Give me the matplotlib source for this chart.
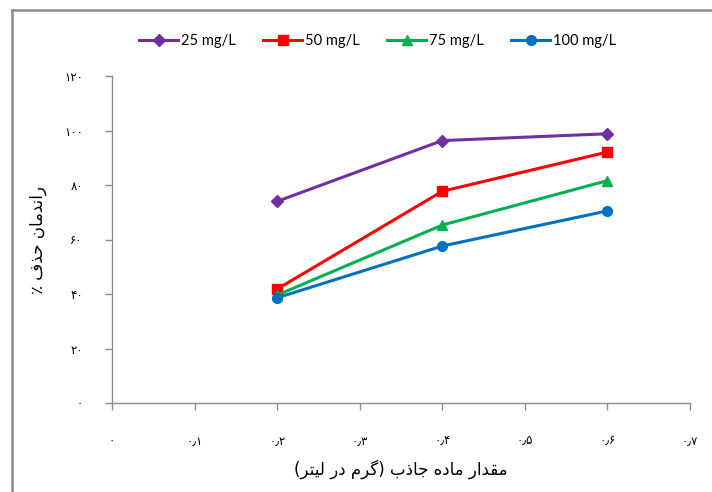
import numpy as np
import matplotlib
matplotlib.use("Agg")
import matplotlib.pyplot as plt
from matplotlib.lines import Line2D

# ------------------------------------------------------------
# Data
# ------------------------------------------------------------
dose = [0.2, 0.4, 0.6]
removal_25 = [74.0, 96.3, 98.8]
removal_50 = [41.8, 77.7, 92.1]
removal_75 = [39.6, 65.3, 81.6]
removal_100 = [38.6, 57.6, 70.5]
series_labels = ["25 mg/L", "50 mg/L", "75 mg/L", "100 mg/L"]

x_ticks = [0, 0.1, 0.2, 0.3, 0.4, 0.5, 0.6, 0.7]
y_ticks = [0, 20, 40, 60, 80, 100, 120]

x_label_fa = "مقدار ماده جاذب (گرم در لیتر)"
y_label_fa = "راندمان حذف ٪"

# ------------------------------------------------------------
# Tiny Persian shaper (matplotlib has no Arabic-script shaping)
# forms: isolated, final, initial, medial
# ------------------------------------------------------------
FORMS = {
    'ا': ('\uFE8D', '\uFE8E', None, None),
    'د': ('\uFEA9', '\uFEAA', None, None),
    'ذ': ('\uFEAB', '\uFEAC', None, None),
    'ر': ('\uFEAD', '\uFEAE', None, None),
    'ب': ('\uFE8F', '\uFE90', '\uFE91', '\uFE92'),
    'ت': ('\uFE95', '\uFE96', '\uFE97', '\uFE98'),
    'ج': ('\uFE9D', '\uFE9E', '\uFE9F', '\uFEA0'),
    'ح': ('\uFEA1', '\uFEA2', '\uFEA3', '\uFEA4'),
    'ف': ('\uFED1', '\uFED2', '\uFED3', '\uFED4'),
    'ق': ('\uFED5', '\uFED6', '\uFED7', '\uFED8'),
    'ل': ('\uFEDD', '\uFEDE', '\uFEDF', '\uFEE0'),
    'م': ('\uFEE1', '\uFEE2', '\uFEE3', '\uFEE4'),
    'ن': ('\uFEE5', '\uFEE6', '\uFEE7', '\uFEE8'),
    'ه': ('\uFEE9', '\uFEEA', '\uFEEB', '\uFEEC'),
    'گ': ('\uFB92', '\uFB93', '\uFB94', '\uFB95'),
    'ی': ('\uFBFC', '\uFBFD', '\uFBFE', '\uFBFF'),
}
MIRROR = {'(': ')', ')': '('}


def fa(text):
    out = []
    for i, c in enumerate(text):
        if c not in FORMS:
            out.append(MIRROR.get(c, c))
            continue
        prev = text[i - 1] if i > 0 else None
        nxt = text[i + 1] if i + 1 < len(text) else None
        iso, fin, ini, med = FORMS[c]
        join_prev = prev in FORMS and FORMS[prev][2] is not None
        join_next = nxt in FORMS and ini is not None
        if join_prev and join_next:
            out.append(med)
        elif join_prev:
            out.append(fin)
        elif join_next:
            out.append(ini)
        else:
            out.append(iso)
    return "".join(reversed(out))


PERSIAN_DIGITS = str.maketrans("0123456789.", "۰۱۲۳۴۵۶۷۸۹٫")


def fa_num(v):
    s = f"{v:g}"
    return s.translate(PERSIAN_DIGITS)


# ------------------------------------------------------------
# Plot
# ------------------------------------------------------------
plt.rcParams['font.family'] = ['DejaVu Sans']
fig = plt.figure(figsize=(7.12, 4.92), dpi=100)
ax = fig.add_axes([112 / 712, 89 / 492, 578 / 712, 327 / 492])

styles = [
    ("#7030A0", "D", 6),
    ("#FF0000", "s", 7),
    ("#00B050", "^", 7),
    ("#0070C0", "o", 7),
]
for vals, lab, (col, mk, ms) in zip(
        [removal_25, removal_50, removal_75, removal_100], series_labels, styles):
    ax.plot(dose, vals, color=col, marker=mk, markersize=ms, linewidth=2.2,
            label=lab)

ax.set_xlim(0, 0.7)
ax.set_ylim(0, 120)
ax.set_xticks(x_ticks)
ax.set_yticks(y_ticks)
ax.set_xticklabels([fa_num(v) for v in x_ticks])
ax.set_yticklabels([fa_num(v) for v in y_ticks])

for side in ("top", "right"):
    ax.spines[side].set_visible(False)
for side in ("left", "bottom"):
    ax.spines[side].set_color("#8c8c8c")
    ax.spines[side].set_linewidth(1.0)
ax.tick_params(axis="both", colors="#8c8c8c", length=5, width=1.0,
               labelcolor="black", labelsize=8.5)
ax.tick_params(axis="x", pad=18)
ax.tick_params(axis="y", pad=16)

ax.set_xlabel(fa(x_label_fa), fontsize=12, labelpad=8)
ax.set_ylabel(fa(y_label_fa), fontsize=12, labelpad=12)

fig.legend(loc="upper center", bbox_to_anchor=(0.53, 0.958), ncol=4,
           frameon=False, handlelength=2.7,
           columnspacing=1.9, handletextpad=0.15,
           prop={"family": ["Lato", "DejaVu Sans"], "size": 10.5})

# outer chart border (only the left and top edges fall inside the picture)
border_x = 12 / 712
border_y = 1 - 10 / 492
fig.add_artist(Line2D([border_x, border_x], [0, border_y],
                      transform=fig.transFigure, color="#8a8a8a", linewidth=1.8))
fig.add_artist(Line2D([border_x, 1], [border_y, border_y],
                      transform=fig.transFigure, color="#8a8a8a", linewidth=1.8))

fig.savefig("out.png", dpi=100)
